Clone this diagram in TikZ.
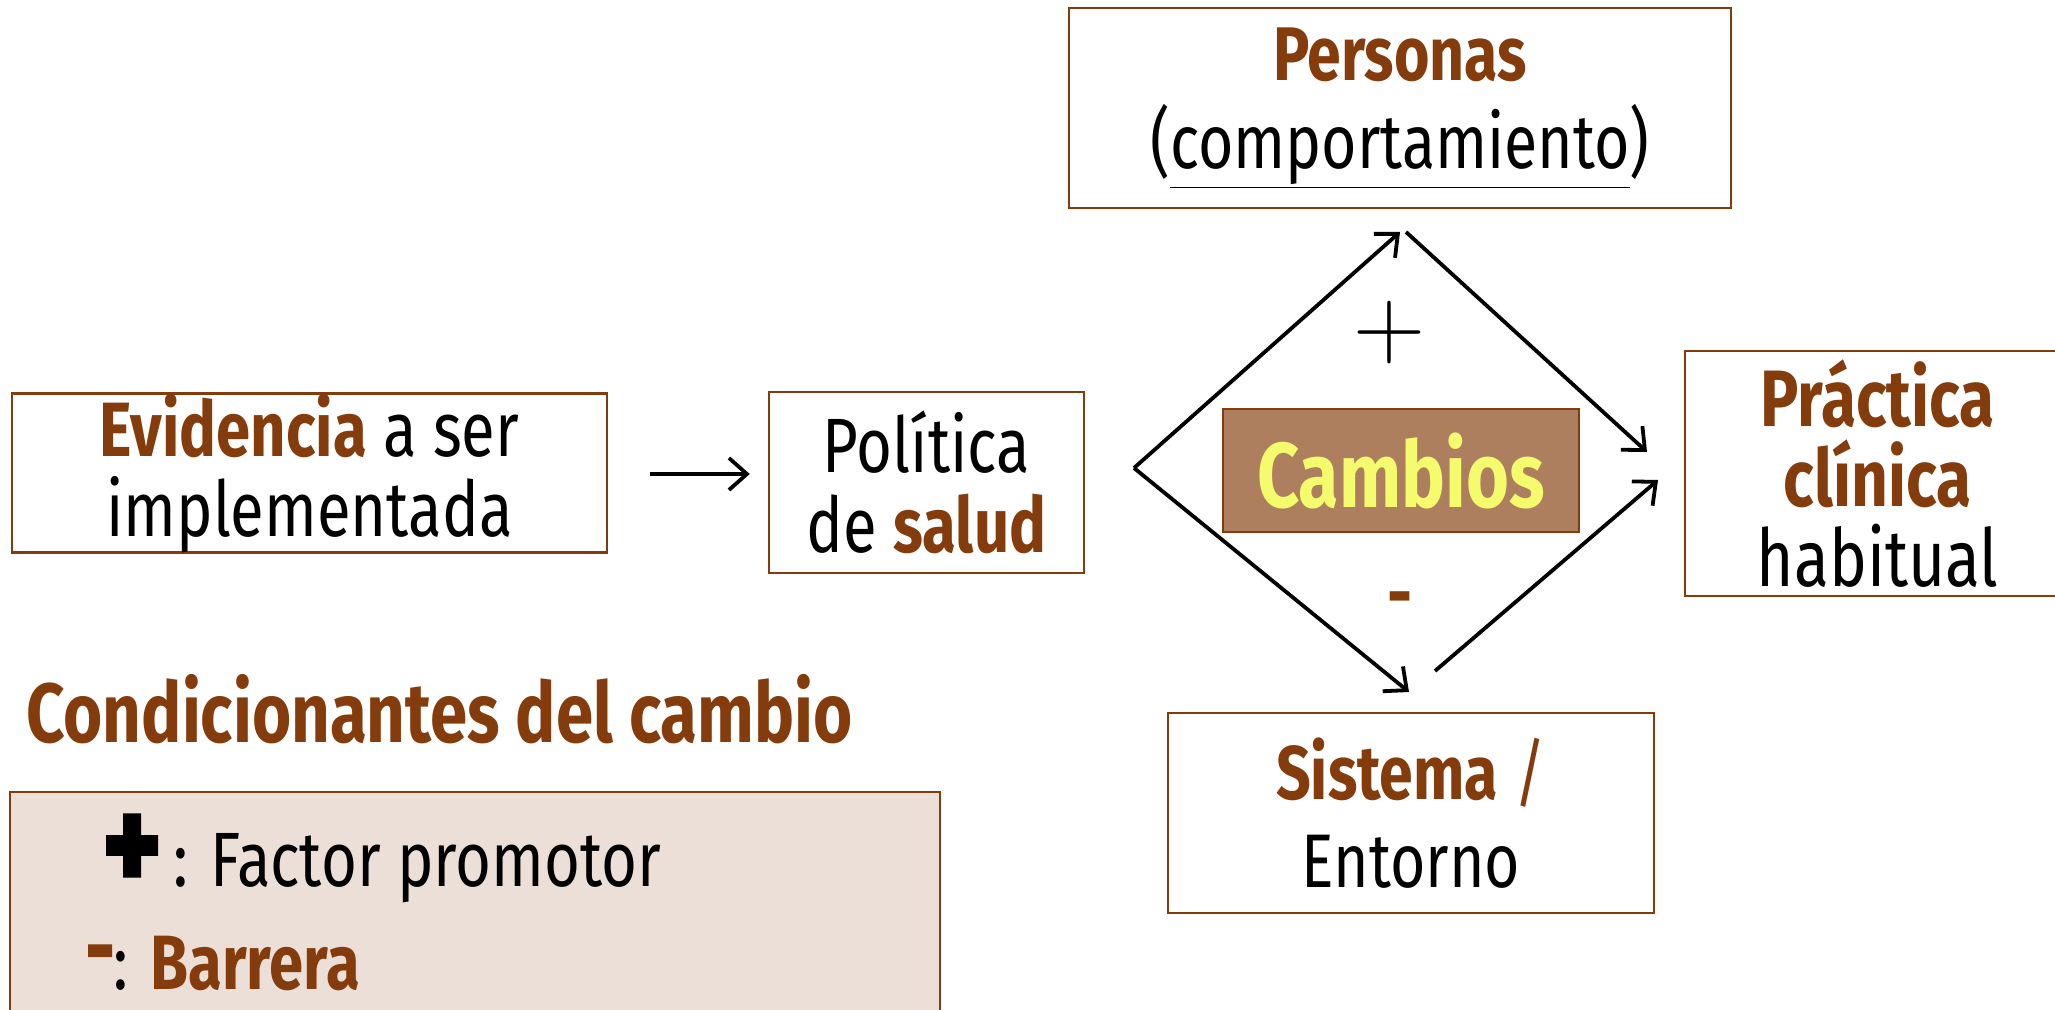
\documentclass[tikz,border=0pt]{standalone}
\usepackage{fontspec}
\setmainfont{Fira Sans}[FakeStretch=0.8]
\newfontfamily\fina{Latin Modern Roman}
\usepackage{xcolor}
\usetikzlibrary{arrows.meta}
\definecolor{marron}{HTML}{843C0C}
\definecolor{cafe}{HTML}{AE7F5E}
\definecolor{crema}{HTML}{EBDFD7}
\definecolor{amarillo}{HTML}{F4FB6C}
\newcommand{\resalta}[1]{\textbf{\textcolor{marron}{#1}}}
\newcommand{\tam}{\fontsize{38.5}{40}\selectfont}
\newcommand{\tamg}{\fontsize{42}{40}\selectfont}

\begin{document}
\begin{tikzpicture}[x=0.5pt,y=-0.5pt]
	\tikzstyle{every node}+=[inner sep=0pt, align=center, font=\tam]
	\tikzstyle{caja}=[draw=marron, line width=1.2pt, fill=white]
	\tikzstyle{flecha}=[line width=1.9pt, -{Straight Barb[length=9pt,width=16pt,line width=1.9pt]}]
	\useasboundingbox (0,0) rectangle (2055,1010);
	\clip (0,0) rectangle (2055,1010);
	\node [caja, minimum width=297.5pt, minimum height=79pt] (evid) at (309.5,473) {\resalta{Evidencia} a ser\\implementada};
	\node [caja, minimum width=157.5pt, minimum height=90.5pt] (polit) at (926.5,482.5) {Política\\de \resalta{salud}};
	\node [caja, minimum width=331pt, minimum height=100pt, font=\fontsize{38}{44}\selectfont] (pers) at (1400,108) {\resalta{Personas}\\(\underline{comportamiento})};
	\node [caja, fill=cafe, draw=marron, line width=0.8pt, minimum width=178pt, minimum height=61.5pt, font=\fontsize{46}{46}\selectfont] (camb) at (1401,470.5) {\textbf{\textcolor{amarillo}{Cambios}}};
	\node [caja, minimum width=192.5pt, minimum height=122.5pt, font=\fontsize{40}{40}\selectfont] (pract) at (1877.5,473.5) {\resalta{Práctica}\\\resalta{clínica}\\habitual};
	\node [caja, minimum width=243pt, minimum height=100pt, font=\fontsize{38}{44}\selectfont] (sist) at (1411,813) {\resalta{Sistema} \textcolor{marron}{/}\\Entorno};
	\node (mas) at (1389,333) {\fina\fontsize{50}{50}\selectfont +};
	\node (menos) at (1400,606) {\resalta{-}};
	\node [anchor=base west, font=\tamg] (titulo) at (26,742) {\resalta{Condicionantes del cambio}};
	\node [caja, fill=crema, minimum width=465pt, minimum height=119pt] (leyenda) at (475,911) {};
	\node [anchor=base west] (leyuno) at (102,886) {\raisebox{-3pt}{\fontsize{70}{70}\selectfont\bfseries\addfontfeature{FakeBold=2.5}+}\hspace{6pt}: Factor promotor};
	\node [anchor=base west] (leydos) at (86,989) {\raisebox{6pt}{\fontsize{42}{42}\selectfont\bfseries\addfontfeature{FakeBold=3}\textcolor{marron}{-}}: \resalta{Barrera}};
	\coordinate (izq) at (1134,468);
	\coordinate (cima) at (1400,232);
	\coordinate (cimab) at (1406,232);
	\coordinate (fondo) at (1409,692);
	\coordinate (fondob) at (1435,671);
	\coordinate (dera) at (1647,452);
	\coordinate (derb) at (1658,480);
	\draw [flecha, shorten <=21pt, shorten >=9pt] (evid.east |- 0,474) -- (polit.west |- 0,474);
	\draw [flecha] (izq) -- (cima);
	\draw [flecha] (izq) -- (fondo);
	\draw [flecha] (cimab) -- (dera);
	\draw [flecha] (fondob) -- (derb);
\end{tikzpicture}
\end{document}
